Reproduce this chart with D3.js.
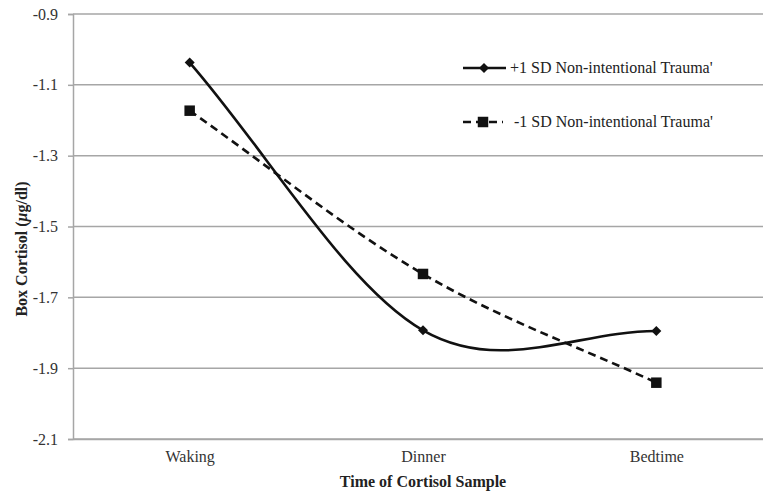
<!DOCTYPE html>
<html><head><meta charset="utf-8">
<script src="https://cdn.jsdelivr.net/npm/d3@7"></script>
<style>body{margin:0;background:#fff}svg{display:block}</style>
</head><body><svg id="c" width="763" height="496"></svg>
<script>
const categories = ["Waking", "Dinner", "Bedtime"];
const plusSD = [-1.037, -1.793, -1.795];
const minusSD = [-1.173, -1.634, -1.941];
const yTicks = [-0.9, -1.1, -1.3, -1.5, -1.7, -1.9, -2.1];
const seriesNames = ["+1 SD Non-intentional Trauma'", "-1 SD Non-intentional Trauma'"];

const svg = d3.select("#c");
const font = "'Liberation Serif', 'Times New Roman', serif";
const L = 73, R = 773, T = 14, B = 439;
const x = d3.scalePoint().domain(categories).range([L, R]).padding(0.5);
const y = d3.scaleLinear().domain([-2.1, -0.9]).range([B, T]);

// Excel-style smoothed line curve
function ExcelCurve(context) { this._context = context; }
ExcelCurve.prototype = {
  areaStart() {}, areaEnd() {},
  lineStart() { this._pts = []; },
  point(px, py) { this._pts.push([+px, +py]); },
  lineEnd() {
    const p = this._pts, c = this._context, n = p.length;
    if (!n) return;
    c.moveTo(p[0][0], p[0][1]);
    if (n === 2) { c.lineTo(p[1][0], p[1][1]); return; }
    for (let i = 0; i < n - 1; i++) {
      let c1, c2;
      if (i === 0) c1 = [p[0][0] + (p[1][0] - p[0][0]) / 3, p[0][1] + (p[1][1] - p[0][1]) / 3];
      else c1 = [p[i][0] + (p[i + 1][0] - p[i - 1][0]) / 6, p[i][1] + (p[i + 1][1] - p[i - 1][1]) / 6];
      if (i + 1 === n - 1) c2 = [p[i + 1][0] - (p[i + 1][0] - p[i][0]) / 3, p[i + 1][1] - (p[i + 1][1] - p[i][1]) / 3];
      else c2 = [p[i + 1][0] - (p[i + 2][0] - p[i][0]) / 6, p[i + 1][1] - (p[i + 2][1] - p[i][1]) / 6];
      c.bezierCurveTo(c1[0], c1[1], c2[0], c2[1], p[i + 1][0], p[i + 1][1]);
    }
  }
};
const curveExcel = ctx => new ExcelCurve(ctx);

// gridlines
svg.append("g").selectAll("line").data(yTicks).join("line")
  .attr("x1", L).attr("x2", 763).attr("y1", d => y(d)).attr("y2", d => y(d))
  .attr("stroke", "#a6a6a6").attr("stroke-width", 1.5);

// y axis
const yAxis = d3.axisLeft(y).tickValues(yTicks).tickSize(5).tickPadding(10)
  .tickFormat(d => d.toFixed(1));
const gy = svg.append("g").attr("transform", `translate(${L},0)`).call(yAxis);
gy.select(".domain").attr("stroke", "#a6a6a6").attr("stroke-width", 1.5);
gy.selectAll(".tick line").attr("stroke", "#a6a6a6").attr("stroke-width", 1.5);
gy.selectAll("text").attr("font-family", font).attr("font-size", 16).attr("fill", "#333");

// x axis
const xAxis = d3.axisBottom(x).tickSize(0).tickPadding(12);
const gx = svg.append("g").attr("transform", `translate(0,${B})`).call(xAxis);
gx.select(".domain").attr("stroke", "#a6a6a6").attr("stroke-width", 1.5);
gx.selectAll("text").attr("font-family", font).attr("font-size", 16).attr("fill", "#333");

// axis titles
svg.append("text").attr("x", (L + R) / 2).attr("y", 487).attr("text-anchor", "middle")
  .attr("font-family", font).attr("font-size", 16).attr("font-weight", "bold").attr("fill", "#222")
  .text("Time of Cortisol Sample");
const yt = svg.append("text").attr("transform", "translate(27,249) rotate(-90)").attr("text-anchor", "middle")
  .attr("font-family", font).attr("font-size", 16).attr("font-weight", "bold").attr("fill", "#222");
yt.append("tspan").text("Box Cortisol (");
yt.append("tspan").attr("font-style", "italic").text("μ");
yt.append("tspan").text("g/dl)");

const line = d3.line().x((d, i) => x(categories[i])).y(d => y(d)).curve(curveExcel);

svg.append("path").datum(plusSD).attr("d", line).attr("fill", "none")
  .attr("stroke", "#111").attr("stroke-width", 2.6);
svg.append("path").datum(minusSD).attr("d", line).attr("fill", "none")
  .attr("stroke", "#111").attr("stroke-width", 2.6).attr("stroke-dasharray", "8,5");

const diamond = d3.symbol().type(d3.symbolSquare).size(50);
svg.append("g").selectAll("path").data(plusSD).join("path")
  .attr("d", diamond)
  .attr("transform", (d, i) => `translate(${x(categories[i])},${y(d)}) rotate(45)`)
  .attr("fill", "#111");
const square = d3.symbol().type(d3.symbolSquare).size(110);
svg.append("g").selectAll("path").data(minusSD).join("path")
  .attr("d", square)
  .attr("transform", (d, i) => `translate(${x(categories[i])},${y(d)})`)
  .attr("fill", "#111");

// legend
const lg = svg.append("g");
lg.append("line").attr("x1", 463).attr("x2", 506).attr("y1", 68).attr("y2", 68)
  .attr("stroke", "#111").attr("stroke-width", 2.6);
lg.append("path").attr("d", diamond).attr("transform", "translate(484,68) rotate(45)").attr("fill", "#111");
lg.append("text").attr("x", 510).attr("y", 73).attr("font-family", font).attr("font-size", 16).attr("fill", "#222")
  .text(seriesNames[0]);
lg.append("line").attr("x1", 463).attr("x2", 503).attr("y1", 122).attr("y2", 122)
  .attr("stroke", "#111").attr("stroke-width", 2.6).attr("stroke-dasharray", "8,5");
lg.append("path").attr("d", square).attr("transform", "translate(483,122)").attr("fill", "#111");
lg.append("text").attr("x", 514).attr("y", 127).attr("font-family", font).attr("font-size", 16).attr("fill", "#222")
  .text(seriesNames[1]);
</script></body></html>
